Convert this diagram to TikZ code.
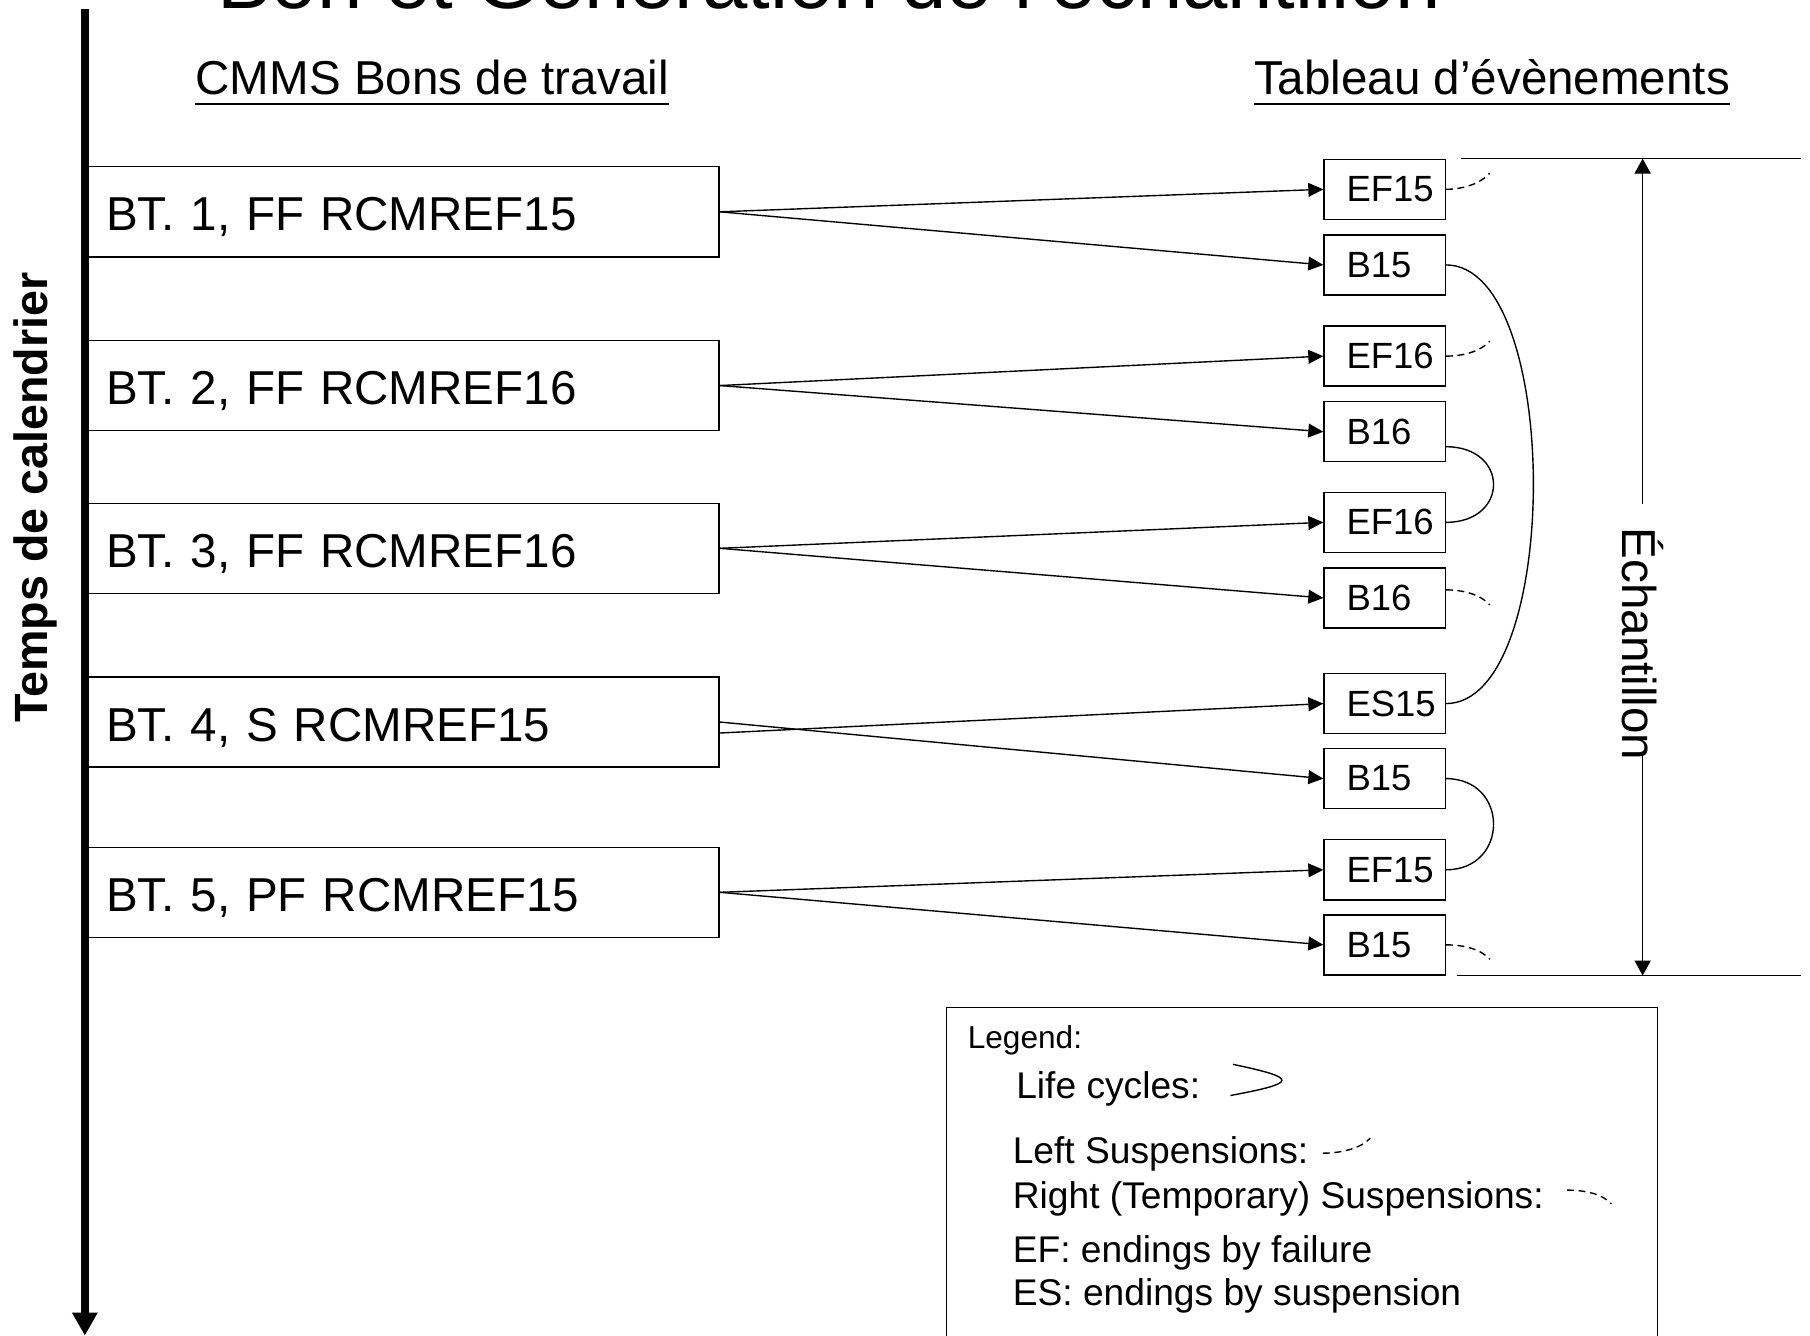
\documentclass[tikz,border=0pt]{standalone}
\usepackage{fontspec}
\setmainfont{Liberation Sans}
\usetikzlibrary{positioning,arrows.meta}

\begin{document}
\begin{tikzpicture}[
  x=0.5pt,y=-0.5pt,
  every node/.style={font=\fontsize{20.6}{24}\selectfont},
  wo/.style={draw,line width=0.6pt,text width=257pt,inner xsep=8.5pt,
             minimum height=39pt,align=left,text height=18pt,text depth=1.5pt},
  ev/.style={draw,line width=0.6pt,text width=33pt,inner xsep=9.75pt,
             minimum height=26pt,align=left,font=\fontsize{15.8}{18}\selectfont},
  hdr/.style={inner sep=0pt,anchor=base west},
  lg/.style={inner sep=0pt,anchor=base west,font=\fontsize{16.1}{19}\selectfont},
  arr/.style={-{Triangle[length=6.5pt,width=6pt]},line width=0.6pt},
  dim/.style={-{Triangle[length=6.5pt,width=7pt]},line width=0.6pt},
  life/.style={line width=0.6pt},
  susp/.style={line width=0.6pt,dash pattern=on 3pt off 2pt}
]
  \useasboundingbox (0,0) rectangle (1568,1157);

  % title, cut by the top edge
  \begin{scope}
    \clip (0,0) rectangle (1568,1157);
    \node[hdr,font=\fontsize{35.3}{40}\selectfont] (title) at (188,7)
      {Bon et Génération de l’échantillon};
  \end{scope}

  \node[hdr] (cmms) at (169,82) {CMMS Bons de travail};
  \node[hdr] (tabl) at (1086,82) {Tableau d’évènements};
  \draw[line width=0.9pt] ([yshift=-4pt]cmms.base west) -- ([yshift=-4pt]cmms.base east);
  \draw[line width=0.9pt] ([yshift=-4pt]tabl.base west) -- ([yshift=-4pt]tabl.base east);

  % time axis
  \coordinate (axtop) at (73.5,8);
  \coordinate (axbot) at (73.5,1157);
  \draw[line width=3.3pt,-{Triangle[length=10pt,width=10.5pt]}] (axtop) -- (axbot);
  \node[rotate=90,font=\bfseries\fontsize{20.2}{24}\selectfont] (tcal) at (31,431)
    {Temps de calendrier};

  % work orders
  \node[wo] (bt1) at (349,183.5) {BT. 1, FF RCMREF15};
  \node[wo] (bt2) at (349,334)   {BT. 2, FF RCMREF16};
  \node[wo] (bt3) at (349,475)   {BT. 3, FF RCMREF16};
  \node[wo] (bt4) at (349,625.5) {BT. 4, S RCMREF15};
  \node[wo] (bt5) at (349,773)   {BT. 5, PF RCMREF15};

  % events
  \node[ev] (ef15a) at (1199.5,164)   {EF15};
  \node[ev] (b15a)  at (1199.5,229.5) {B15};
  \node[ev] (ef16a) at (1199.5,308.5) {EF16};
  \node[ev] (b16a)  at (1199.5,374)   {B16};
  \node[ev] (ef16b) at (1199.5,452.5) {EF16};
  \node[ev] (b16b)  at (1199.5,518)   {B16};
  \node[ev] (es15)  at (1199.5,609.5) {ES15};
  \node[ev] (b15b)  at (1199.5,674.5) {B15};
  \node[ev] (ef15b) at (1199.5,753.5) {EF15};
  \node[ev] (b15c)  at (1199.5,818.5) {B15};

  \draw[arr] (bt1.east) -- (ef15a.west);
  \draw[arr] (bt1.east) -- (b15a.west);
  \draw[arr] (bt2.east) -- (ef16a.west);
  \draw[arr] (bt2.east) -- (b16a.west);
  \draw[arr] (bt3.east) -- (ef16b.west);
  \draw[arr] (bt3.east) -- (b16b.west);
  \draw[arr] ([yshift=-4.75pt]bt4.east) -- (es15.west);
  \draw[arr] (bt4.east) -- (b15b.west);
  \draw[arr] (bt5.east) -- (ef15b.west);
  \draw[arr] (bt5.east) -- (b15c.west);

  % life cycles
  \draw[life] (b15a.east) .. controls +(101,0) and +(101,0) .. (es15.east);
  \draw[life] ([yshift=-6.5pt]b16a.east) .. controls +(55,0) and +(55,0) .. (ef16b.east);
  \draw[life] (b15b.east) .. controls +(55,0) and +(55,0) .. (ef15b.east);

  % suspensions
  \draw[susp] (ef15a.east) .. controls +(15,0) and +(-8,9) .. +(38,-14);
  \draw[susp] (ef16a.east) .. controls +(15,0) and +(-8,9) .. +(38,-13);
  \draw[susp] ([yshift=3.5pt]b16b.east) .. controls +(15,0) and +(-8,-9) .. +(38,13);
  \draw[susp] (b15c.east) .. controls +(15,0) and +(-8,-9) .. +(38,12.5);

  % sample span
  \coordinate (capR) at (1560,0);
  \draw[line width=0.6pt] ([xshift=6.5pt]ef15a.north east) -- (ef15a.north east -| capR);
  \draw[line width=0.6pt] ([xshift=4.75pt]b15c.south east) -- (b15c.south east -| capR);
  \node[rotate=-90,inner xsep=10pt] (ech) at (1423,558) {Échantillon};
  \draw[dim] (ech.west) -- (ech.west |- ef15a.north);
  \draw[dim] ([yshift=12.5pt]ech.east) -- (ech.east |- b15c.south);

  % legend
  \draw[line width=0.6pt] (820,1157) |- (1436,873) -- (1436,1157);
  \node[lg,font=\fontsize{13.7}{16}\selectfont] (lgtitle) at (838,908.6) {Legend:};
  \node[lg] (lglife)  at (880,952)    {Life cycles:};
  \draw[life] (1068,922) .. controls (1125,934) and (1125,938) .. (1066,949);
  \node[lg] (lgleft)  at (877,1007.5) {Left Suspensions:};
  \draw[susp] (1146,999) .. controls +(15,0) and +(-8,9) .. +(41,-13);
  \node[lg] (lgright) at (877,1046.5) {Right (Temporary) Suspensions:};
  \draw[susp] (1357.5,1031) .. controls +(15,0) and +(-8,-9) .. +(38.5,12);
  \node[lg] (lgef)    at (877,1094)   {EF: endings by failure};
  \node[lg] (lges)    at (877,1131)   {ES: endings by suspension};
\end{tikzpicture}
\end{document}
